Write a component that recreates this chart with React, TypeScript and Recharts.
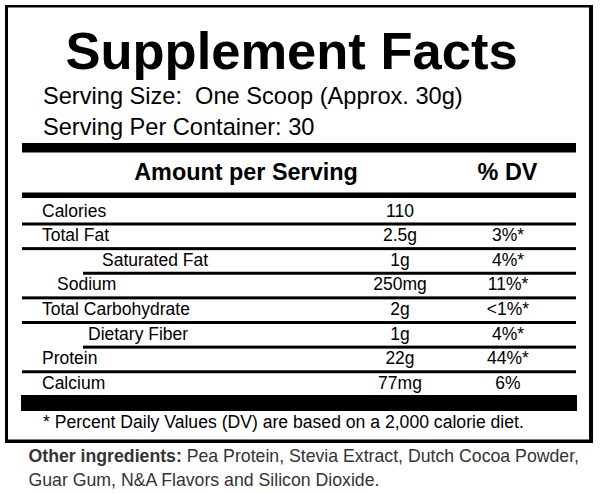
import React from "react";
import { BarChart, Bar, XAxis, YAxis, Customized } from "recharts";

// ---- data ----
const nutrients = [
  "Calories",
  "Total Fat",
  "Saturated Fat",
  "Sodium",
  "Total Carbohydrate",
  "Dietary Fiber",
  "Protein",
  "Calcium",
];
const amounts = ["110", "2.5g", "1g", "250mg", "2g", "1g", "22g", "77mg"];
const dailyValues = ["", "3%*", "4%*", "11%*", "<1%*", "4%*", "44%*", "6%"];

const titleText = "Supplement Facts";
const servingLines = ["Serving Size:  One Scoop (Approx. 30g)", "Serving Per Container: 30"];
const headerLabels = ["Amount per Serving", "% DV"];
const footnoteText = "* Percent Daily Values (DV) are based on a 2,000 calorie diet.";
const otherLabel = "Other ingredients:";
const otherLines = [
  " Pea Protein, Stevia Extract, Dutch Cocoa Powder,",
  "Guar Gum, N&A Flavors and Silicon Dioxide.",
];

// each row is one full-width band of the table
const rows = nutrients.map((n, i) => ({ nutrient: n, amount: amounts[i], dv: dailyValues[i], row: 1 }));

// ---- layout / style ----
const W = 600;
const H = 494;
const FONT = "'Liberation Sans', Arial, Helvetica, sans-serif";
const LEFT = 22;
const RIGHT = 576;
const PLOT_TOP = 199;
const PLOT_BOTTOM = 396;
const AMOUNT_X = 400;
const DV_X = 508;
const NAME_INDENT: Record<string, number> = {
  "Saturated Fat": 80,
  Sodium: 35,
  "Dietary Fiber": 66,
};
const SUB_LINE_START: Record<string, number> = {
  "Saturated Fat": 83,
  "Dietary Fiber": 83,
};

const RowShape = (props: any) => {
  const { x, y, width, height, payload, index } = props;
  const row = payload ?? rows[index];
  if (!row) return null;
  const i = nutrients.indexOf(row.nutrient);
  const cy = y + height / 2;
  const indent = NAME_INDENT[row.nutrient] ?? 20;
  const lineStart = SUB_LINE_START[row.nutrient] ?? x;
  const isLast = i === nutrients.length - 1;
  return (
    <g>
      <text x={x + indent} y={cy + 5} fontSize={17.5} fontFamily={FONT} fill="#000">
        {row.nutrient}
      </text>
      <text x={AMOUNT_X} y={cy + 5} fontSize={17.5} fontFamily={FONT} fill="#000" textAnchor="middle">
        {row.amount}
      </text>
      <text x={DV_X} y={cy + 5} fontSize={17.5} fontFamily={FONT} fill="#000" textAnchor="middle">
        {row.dv}
      </text>
      {!isLast && (
        <rect x={lineStart} y={y + height - 1.5} width={x + width - lineStart} height={3} fill="#000" />
      )}
    </g>
  );
};

const Decor = () => (
  <g>
    {/* outer border */}
    <rect x={5} y={5} width={3} height={438} fill="#000" />
    <rect x={5} y={5} width={588} height={2.5} fill="#000" />
    <rect x={589} y={5} width={4} height={438} fill="#000" />
    <rect x={5} y={439.5} width={588} height={3.5} fill="#000" />
    {/* title */}
    <text x={291.5} y={69.3} fontSize={52.5} fontWeight="bold" fontFamily={FONT} textAnchor="middle" fill="#000">
      {titleText}
    </text>
    <text x={43} y={103.5} fontSize={23.6} fontFamily={FONT} fill="#000" style={{ whiteSpace: "pre" }}>
      {servingLines[0]}
    </text>
    <text x={43} y={135} fontSize={23.6} fontFamily={FONT} fill="#000" style={{ whiteSpace: "pre" }}>
      {servingLines[1]}
    </text>
    {/* thick bars */}
    <rect x={LEFT} y={143} width={RIGHT - LEFT} height={9.5} fill="#000" />
    <text x={246} y={180} fontSize={23.4} fontWeight="bold" fontFamily={FONT} textAnchor="middle" fill="#000">
      {headerLabels[0]}
    </text>
    <text x={507.5} y={180} fontSize={23.4} fontWeight="bold" fontFamily={FONT} textAnchor="middle" fill="#000">
      {headerLabels[1]}
    </text>
    <rect x={LEFT} y={192.5} width={RIGHT - LEFT} height={5.5} fill="#000" />
    <rect x={LEFT - 1} y={395} width={RIGHT - LEFT + 2} height={16} fill="#000" />
    <text x={43} y={428} fontSize={17.6} fontFamily={FONT} fill="#000">
      {footnoteText}
    </text>
    {/* other ingredients */}
    <text x={28.5} y={462} fontSize={17.7} fontFamily={FONT} fill="#333" style={{ whiteSpace: "pre" }}>
      <tspan fontWeight="bold">{otherLabel}</tspan>
      <tspan>{otherLines[0]}</tspan>
    </text>
    <text x={28.5} y={486} fontSize={17.7} fontFamily={FONT} fill="#333">
      {otherLines[1]}
    </text>
  </g>
);

export default function App() {
  return (
    <div style={{ position: "absolute", left: 0, top: 0, width: W, height: H, background: "#fff" }}>
      <BarChart
        width={W}
        height={H}
        data={rows}
        layout="vertical"
        barCategoryGap={0}
        margin={{ top: PLOT_TOP, bottom: H - PLOT_BOTTOM, left: LEFT, right: W - RIGHT }}
      >
        <Customized component={Decor} />
        <XAxis type="number" hide domain={[0, 1]} />
        <YAxis type="category" dataKey="nutrient" hide />
        <Bar dataKey="row" isAnimationActive={false} shape={RowShape} />
      </BarChart>
    </div>
  );
}
